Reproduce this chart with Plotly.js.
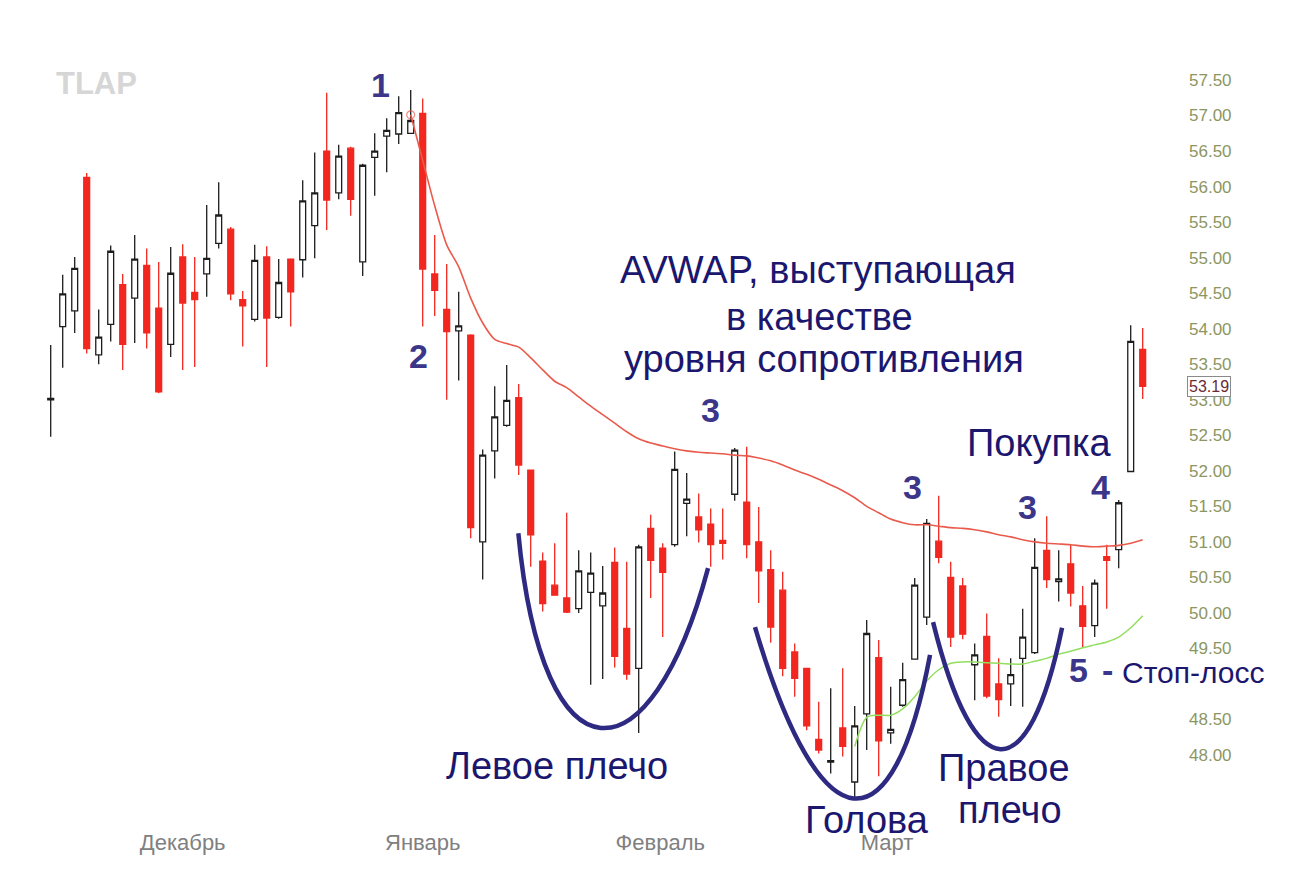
<!DOCTYPE html>
<html>
<head>
<meta charset="utf-8">
<script src="https://cdn.plot.ly/plotly-3.0.1.min.js"></script>
<style>html,body{margin:0;padding:0;background:#fff;}#chart{width:1290px;height:878px;}</style>
</head>
<body>
<div id="chart"></div>
<script>
// ---- Data ----
const openP = [53.00,54.03,54.25,56.13,53.63,54.06,54.62,54.43,54.89,54.29,53.78,55.01,54.51,54.77,55.20,55.40,54.41,54.13,55.01,54.16,
  54.98,54.97,55.45,56.50,55.91,56.54,54.94,56.41,56.71,56.74,56.75,57.03,54.77,54.27,53.97,53.91,51.00,52.28,52.64,53.03,
  52.01,50.73,50.39,50.21,50.06,50.29,50.10,50.71,49.78,49.22,51.19,50.91,50.96,51.54,51.35,51.25,51.02,51.67,51.56,51.00,
  50.61,50.32,49.45,49.22,48.22,47.90,48.38,47.62,48.58,49.37,48.31,48.70,49.35,49.94,51.01,50.50,50.38,49.27,49.67,49.00,
  49.00,49.36,49.44,50.88,50.44,50.69,50.10,49.82,50.79,50.89,51.99,53.71];
const highP = [53.77,54.76,55.01,56.19,54.27,55.17,54.77,55.32,55.13,54.94,55.15,55.19,55.01,55.74,56.06,55.43,54.53,55.18,55.16,54.98,
  54.98,56.09,56.48,57.32,56.59,56.56,56.32,56.75,56.96,57.27,57.36,57.24,55.32,54.91,54.52,53.92,52.30,53.19,53.49,53.22,
  52.01,50.85,50.98,51.41,50.88,50.85,50.66,50.92,50.72,50.96,51.38,50.98,52.27,51.97,51.68,51.47,51.47,52.32,52.34,51.49,
  50.88,50.58,49.57,49.22,48.75,48.94,49.22,48.69,49.90,49.62,48.96,49.30,50.49,51.32,51.65,50.72,50.49,49.57,49.99,49.36,
  49.36,50.06,51.05,51.36,50.88,50.96,50.38,50.47,50.96,51.59,54.05,54.01];
const lowP = [52.48,53.45,53.94,53.65,53.50,53.82,53.42,53.80,53.72,53.09,53.60,53.42,53.46,54.45,55.13,54.40,53.75,54.10,53.46,54.14,
  54.03,54.72,54.99,55.39,55.82,55.59,54.74,55.87,56.20,56.60,56.75,54.03,54.18,53.00,53.27,51.05,50.47,51.89,52.62,51.94,
  50.65,50.02,50.24,50.00,50.00,48.99,49.07,49.23,49.06,48.31,50.21,49.66,50.93,51.08,50.99,50.65,50.75,51.58,50.77,50.14,
  49.58,49.11,48.82,48.35,48.02,47.74,47.98,47.37,48.07,47.70,48.16,48.68,49.35,49.83,50.70,49.52,49.63,48.77,48.80,48.54,
  48.69,48.68,49.42,50.35,50.16,50.09,49.52,49.66,50.06,50.63,51.98,53.01];
const closeP = [53.02,54.49,54.85,53.72,53.88,55.09,53.78,54.98,53.94,53.11,54.78,54.36,54.41,54.99,55.60,54.49,54.32,54.96,54.15,54.65,
  54.52,55.80,55.91,55.81,56.43,55.82,56.30,56.50,56.79,57.04,56.93,54.84,54.54,53.96,54.04,51.20,52.22,52.76,52.99,52.08,
  51.10,50.13,50.25,50.01,50.59,50.56,50.28,49.39,49.14,50.93,50.74,50.57,52.02,51.60,51.17,50.96,50.98,52.29,50.96,50.59,
  49.80,49.22,49.08,48.41,48.07,47.92,48.12,48.41,49.71,48.20,48.36,49.06,50.39,51.26,50.78,49.66,49.70,49.41,48.83,48.78,
  49.13,49.66,50.64,50.47,50.48,50.28,49.81,50.42,50.74,51.55,53.82,53.19];

// AVWAP anchored at the high (candle 30 onward)
const avwapStart = 30;
const avwapValues = [57.01,56.37,55.73,55.18,54.87,54.43,54.08,53.85,53.79,53.74,53.59,53.42,53.26,53.17,53.04,52.91,52.79,52.67,52.55,52.45,
  52.39,52.35,52.31,52.28,52.26,52.25,52.24,52.22,52.21,52.18,52.14,52.08,52.01,51.95,51.88,51.80,51.72,51.62,51.50,51.41,
  51.32,51.27,51.24,51.24,51.22,51.20,51.19,51.17,51.14,51.10,51.07,51.03,51.00,50.98,50.97,50.96,50.94,50.93,50.94,50.95,
  50.98,51.03];
// AVWAP anchored at the low (candle 67 onward)
const lowAvwapStart = 67;
const lowAvwapValues = [48.12,48.53,48.56,48.56,48.65,48.82,49.04,49.20,49.29,49.31,49.31,49.30,49.29,49.28,49.28,49.32,49.36,49.42,49.46,49.51,
  49.55,49.59,49.66,49.79,49.96];

const monthLabels = ["Декабрь","Январь","Февраль","Март"];
const monthPos = [11, 31, 50.8, 69.7];
// price labels visible on the right axis (49.00 is hidden behind the stop-loss note in the original)
const yTicks = [48,48.5,49.5,50,50.5,51,51.5,52,52.5,53,53.5,54,54.5,55,55.5,56,56.5,57,57.5];
const lastPrice = 53.19;

// ---- Build ----
const idx = openP.map((_, i) => i);
const avX = avwapValues.map((_, i) => i + avwapStart);
const lavX = lowAvwapValues.map((_, i) => i + lowAvwapStart);

const NAVY = '#1b166e', DIG = '#3b3689', FONT = 'Liberation Sans, Arial, sans-serif';

const traces = [
  {type:'candlestick', x: idx, open: openP, high: highP, low: lowP, close: closeP,
   increasing:{line:{color:'#1c1c1c', width:1.3}, fillcolor:'#ffffff'},
   decreasing:{line:{color:'#f2271f', width:1.3}, fillcolor:'#f2271f'},
   whiskerwidth:0, hoverinfo:'skip', showlegend:false},
  {type:'scatter', mode:'lines+markers', x: avX, y: avwapValues,
   line:{color:'#ea5a4c', width:1.6, shape:'spline', smoothing:0.8},
   marker:{size: avwapValues.map((v,i)=> i===0 ? 8 : 0), symbol:'circle-open', color:'#ea5a4c', line:{width:1.2}},
   hoverinfo:'skip', showlegend:false},
  {type:'scatter', mode:'lines', x: lavX, y: lowAvwapValues,
   line:{color:'#92de5e', width:1.5, shape:'spline', smoothing:0.8},
   hoverinfo:'skip', showlegend:false}
];

// plot area geometry (pixels) for placing text annotations
const PL = 40, PR = 1185, PT = 40, PB = 820;
const px = x => (x - PL) / (PR - PL);
const py = y => (PB - y) / (PB - PT);
function txt(x, y, text, size, color, bold, extra) {
  return Object.assign({xref:'paper', yref:'paper', x: px(x), y: py(y), xanchor:'center', yanchor:'middle',
    text: bold ? '<b>'+text+'</b>' : text, showarrow:false,
    font:{family: FONT, size: size, color: color}}, extra || {});
}

const annotations = [
  txt(96, 83, 'TLAP', 31, '#d6d6d6', true),
  txt(818, 270, 'AVWAP, выступающая', 38, NAVY),
  txt(819, 317, 'в качестве', 38, NAVY),
  txt(824, 359, 'уровня сопротивления', 38, NAVY),
  txt(1039, 443, 'Покупка', 38, NAVY),
  txt(557, 766, 'Левое плечо', 38, NAVY),
  txt(867, 820, 'Голова', 38, NAVY),
  txt(1004, 768, 'Правое', 38, NAVY),
  txt(1010, 810, 'плечо', 38, NAVY),
  txt(380, 85, '1', 34, DIG, true),
  txt(418, 356, '2', 34, DIG, true),
  txt(710, 410, '3', 34, DIG, true),
  txt(912, 487, '3', 34, DIG, true),
  txt(1027, 507, '3', 34, DIG, true),
  txt(1100, 487, '4', 34, DIG, true),
  txt(1078, 670, '5', 34, DIG, true),
  txt(1107, 670, '-', 34, DIG, true),
  txt(1193, 672, 'Стоп-лосс', 30, NAVY),
  {xref:'paper', yref:'y', x: px(1209), y: lastPrice, xanchor:'center', yanchor:'middle',
   text: lastPrice.toFixed(2), showarrow:false, bgcolor:'#ffffff', bordercolor:'#8a8a8a', borderwidth:1, borderpad:1,
   font:{family: FONT, size:16, color:'#6a2a36'}}
];

const shapes = [
  {type:'path', xref:'x', yref:'y', path:'M 38.97,51.12 C 41.0,47.5 50.0,47.6 54.78,50.63',
   line:{color:'#2e2a82', width:4.5}},
  {type:'path', xref:'x', yref:'y', path:'M 58.69,49.80 C 64.2,46.65 70.2,46.65 73.28,49.41',
   line:{color:'#2e2a82', width:4.5}},
  {type:'path', xref:'x', yref:'y', path:'M 73.53,49.87 C 77.0,47.5 81.5,47.5 84.28,49.79',
   line:{color:'#2e2a82', width:4.5}}
];

const layout = {
  width:1290, height:878, paper_bgcolor:'#ffffff', plot_bgcolor:'#ffffff',
  margin:{l:PL, r:1290-PR, t:PT, b:878-PB, pad:0},
  showlegend:false,
  xaxis:{range:[(PL-50.7)/12, (PR-50.7)/12], showgrid:false, zeroline:false, showline:false, ticks:'',
    tickvals: monthPos, ticktext: monthLabels, tickfont:{family:FONT, size:22, color:'#808080'},
    ticklabelstandoff: 7, rangeslider:{visible:false}, fixedrange:true},
  yaxis:{side:'right', range:[48 - (PB-755)/71.05, 57.5 + (80-PT)/71.05], showgrid:false, zeroline:false, showline:false,
    ticks:'', tickvals: yTicks, ticktext: yTicks.map(v => v.toFixed(2)), ticklabelstandoff: 3,
    tickfont:{family:FONT, size:17, color:'#8c9662'}, fixedrange:true},
  annotations: annotations, shapes: shapes
};

Plotly.newPlot('chart', traces, layout, {displayModeBar:false, staticPlot:true});
</script>
</body>
</html>
